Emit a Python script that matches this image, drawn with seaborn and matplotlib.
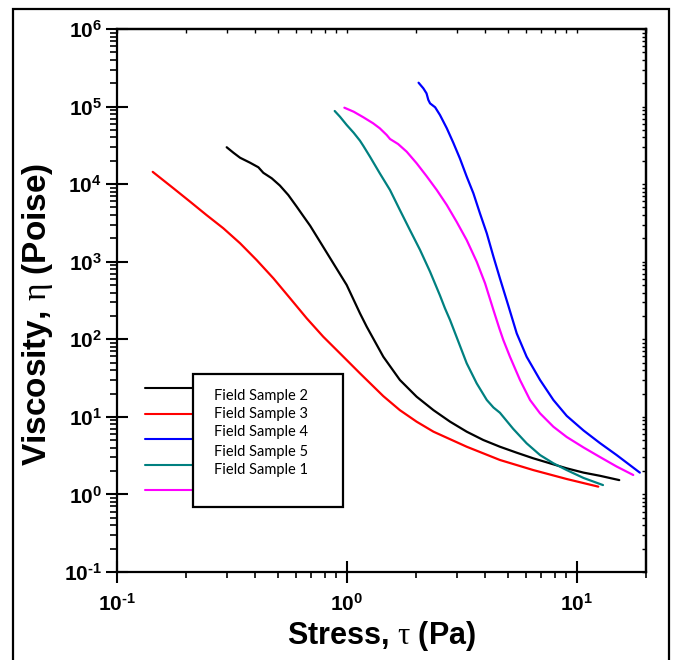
import numpy as np
import pandas as pd
import matplotlib
matplotlib.use('Agg')
import matplotlib.pyplot as plt
from matplotlib.patches import Rectangle
from matplotlib.ticker import FuncFormatter, NullFormatter
import seaborn as sns

# stress (Pa) / viscosity (Poise)
s2_stress = [0.300, 0.321, 0.343, 0.379, 0.412, 0.433, 0.471, 0.511, 0.556, 0.605,
             0.646, 0.692, 0.764, 0.873, 0.998, 1.14, 1.22, 1.44, 1.70, 2.01,
             2.38, 2.81, 3.32, 3.92, 4.63, 5.48, 6.47, 7.64, 9.04, 10.7, 12.6, 15.3]
s2_visc = [29900, 25400, 21900, 18900, 16500, 14000, 11900, 9600, 7240, 5120,
           3880, 2910, 1810, 953, 501, 216, 145, 59.6, 29.9, 18.2,
           12.2, 8.67, 6.44, 5.03, 4.12, 3.45, 2.92, 2.52, 2.17, 1.91, 1.74, 1.53]

s3_stress = [0.143, 0.176, 0.208, 0.245, 0.290, 0.343, 0.405, 0.479, 0.566, 0.669,
             0.789, 0.933, 1.14, 1.44, 1.70, 2.01, 2.38, 3.32, 4.63, 6.47,
             9.04, 12.4]
s3_visc = [14400, 8840, 5940, 4000, 2700, 1730, 1050, 611, 338, 186,
           108, 65.9, 36.4, 18.5, 12.2, 8.67, 6.44, 4.12, 2.78, 2.06,
           1.58, 1.26]

s4_stress = [2.05, 2.15, 2.22, 2.26, 2.30, 2.42, 2.54, 2.72, 2.90, 3.10,
             3.32, 3.55, 3.79, 4.06, 4.34, 4.63, 5.04, 5.48, 6.05, 6.92,
             7.91, 9.04, 10.7, 12.6, 14.9, 18.8]
s4_visc = [203000, 172000, 148000, 122000, 110000, 97900, 77900, 52500, 34400, 21500,
           12500, 7620, 4210, 2320, 1160, 611, 270, 119, 59.6, 29.9,
           16.5, 10.3, 6.67, 4.60, 3.22, 1.91]

s5_stress = [0.885, 0.933, 0.998, 1.07, 1.14, 1.18, 1.26, 1.39, 1.54, 1.70,
             1.88, 2.08, 2.30, 2.54, 2.67, 2.81, 3.00, 3.32, 3.67, 4.06,
             4.34, 4.63, 4.79, 5.29, 6.05, 6.92, 7.91, 9.04, 10.7, 13.0]
s5_visc = [87700, 74000, 57900, 46000, 36300, 31000, 22600, 13800, 8400, 4640,
           2560, 1420, 743, 367, 251, 177, 107, 49, 27, 16.5,
           13.2, 11.3, 10.0, 7.0, 4.56, 3.22, 2.52, 2.06, 1.63, 1.32]

s1_stress = [0.975, 1.07, 1.18, 1.30, 1.39, 1.49, 1.54, 1.67, 1.82, 2.01,
             2.22, 2.46, 2.72, 3.00, 3.32, 3.67, 3.99, 4.34, 4.60, 4.79,
             5.12, 5.66, 6.26, 6.92, 7.91, 9.04, 10.7, 12.6, 14.9, 17.6]
s1_visc = [96700, 85900, 72700, 60900, 52500, 43000, 38200, 32900, 26200, 18600,
           12700, 8400, 5380, 3280, 1900, 1000, 527, 238, 139, 97.9,
           59.6, 29.9, 16.5, 11.1, 7.46, 5.50, 4.03, 3.04, 2.29, 1.78]

samples = ['Field Sample 2', 'Field Sample 3', 'Field Sample 4',
           'Field Sample 5', 'Field Sample 1']
colors = ['black', '#ff0000', '#0000ff', '#008080', '#ff00ff']

sns.set_style('ticks')
plt.rcParams['font.family'] = ['Liberation Sans', 'DejaVu Sans']
plt.rcParams['mathtext.fontset'] = 'custom'
plt.rcParams['mathtext.bf'] = 'Liberation Sans:bold'
plt.rcParams['mathtext.rm'] = 'Liberation Serif'
plt.rcParams['mathtext.it'] = 'Liberation Serif:italic'
for key in ('text.color', 'axes.labelcolor', 'xtick.color', 'ytick.color',
            'axes.edgecolor'):
    plt.rcParams[key] = 'black'

series = [(s2_stress, s2_visc), (s3_stress, s3_visc), (s4_stress, s4_visc),
          (s5_stress, s5_visc), (s1_stress, s1_visc)]
frames = []
for name, (xs, ys) in zip(samples, series):
    frames.append(pd.DataFrame({'stress': xs, 'viscosity': ys, 'sample': name}))
df = pd.concat(frames, ignore_index=True)

fig = plt.figure(figsize=(6.77, 6.6), dpi=100)
ax = fig.add_axes([117 / 677, 1 - 572 / 660, 529 / 677, 543 / 660])
ax.set_xscale('log')
ax.set_yscale('log')
sns.lineplot(data=df, x='stress', y='viscosity', hue='sample', hue_order=samples,
             palette=colors, sort=False, estimator=None, linewidth=1.6,
             legend=False, ax=ax)
ax.set_xlim(0.1, 20)
ax.set_ylim(0.1, 1e6)


def decade_label(v, pos):
    # short hyphen in the exponent, as in the original
    return r'$\mathbf{10^{%s}}$' % str(round(np.log10(v))).replace('-', '\u2010')


fmt = FuncFormatter(decade_label)
for axis in (ax.xaxis, ax.yaxis):
    axis.set_major_formatter(fmt)
    axis.set_minor_formatter(NullFormatter())

ax.tick_params(which='major', direction='inout', length=16, width=1.5,
               labelsize=15, pad=3)
ax.tick_params(axis='x', which='major', pad=7)
ax.tick_params(axis='y', which='minor', direction='out', length=5, width=1.2)
ax.tick_params(axis='x', which='minor', direction='out', length=4, width=1.2)
for sp in ax.spines.values():
    sp.set_linewidth(1.6)

# small inward ticks on top and right
sec_x = ax.secondary_xaxis('top')
sec_y = ax.secondary_yaxis('right')
for sec, axis in ((sec_x, sec_x.xaxis), (sec_y, sec_y.yaxis)):
    axis.set_major_formatter(NullFormatter())
    axis.set_minor_formatter(NullFormatter())
    sec.tick_params(which='both', direction='in', length=3, width=1)
    for sp in sec.spines.values():
        sp.set_linewidth(1.6)

ax.set_xlabel(r'Stress, $\mathrm{\tau}$ (Pa)', fontsize=22, fontweight='bold')
ax.set_ylabel(r'Viscosity, $\mathrm{\eta}$ (Poise)', fontsize=24, fontweight='bold')
ax.xaxis.set_label_coords(0.5, -0.087)
ax.yaxis.set_label_coords(-0.118, 0.474)

# legend drawn like the original: lines outside a framed box of labels
ax.add_patch(Rectangle((0.1437, 0.1197), 0.2835, 0.2449, transform=ax.transAxes,
                       facecolor='white', edgecolor='black', lw=1.6, zorder=4))
line_y = [0.3389, 0.291, 0.2449, 0.197, 0.151]
text_y = [0.3247, 0.2910, 0.2578, 0.2210, 0.1878]
for name, c, ly, ty in zip(samples, colors, line_y, text_y):
    ax.plot([0.0529, 0.1437], [ly, ly], transform=ax.transAxes, color=c, lw=1.5,
            zorder=3)
    ax.text(0.1834, ty, name, transform=ax.transAxes, fontsize=10.5,
            family=['Lato', 'DejaVu Sans'], va='center', zorder=5)

# outer frame around the figure
fig.add_artist(Rectangle((13 / 677, -0.05), 656 / 677, 1 - 9 / 660 + 0.05,
                         transform=fig.transFigure, fill=False, lw=1.6,
                         edgecolor='black'))

fig.savefig('out.png', dpi=100)
plt.close()
